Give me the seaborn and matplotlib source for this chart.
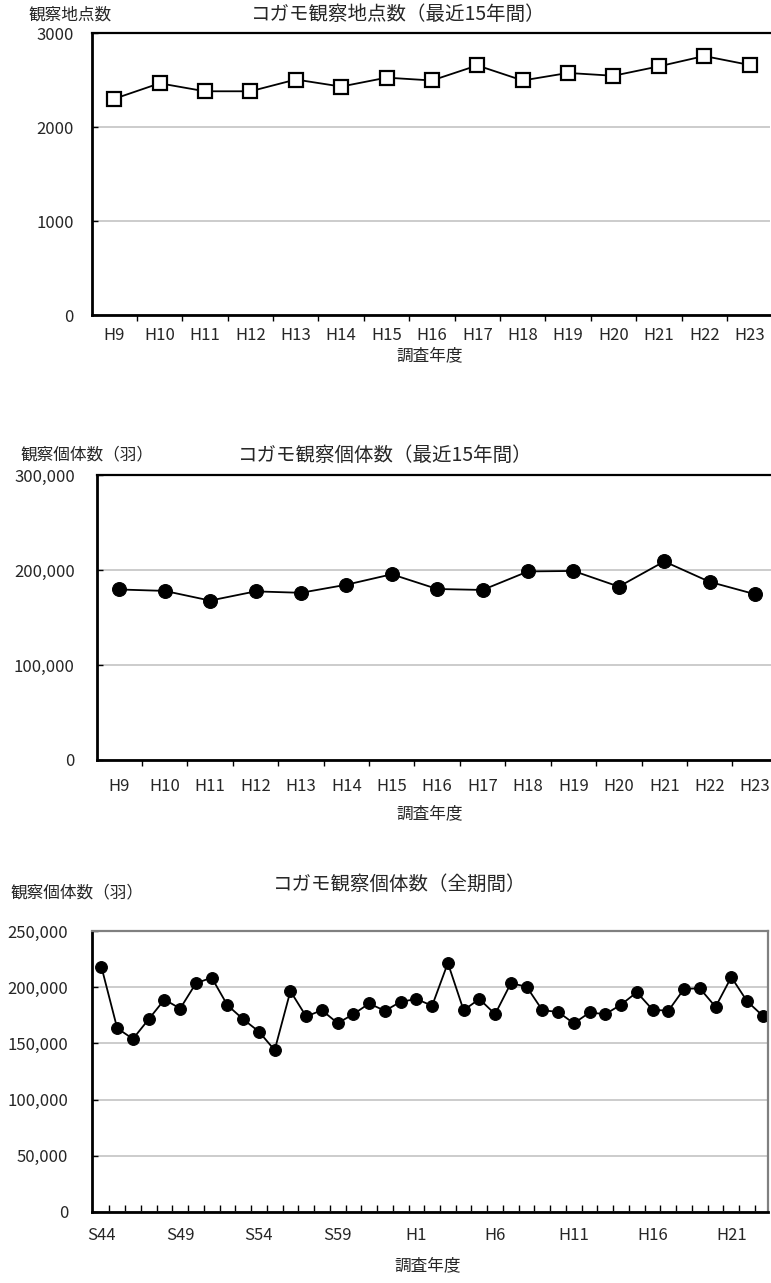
import numpy as np
import pandas as pd
import matplotlib
matplotlib.use("Agg")
import matplotlib.pyplot as plt
from matplotlib.ticker import FuncFormatter
import seaborn as sns

# ---------------- data ----------------
recent_years = ["H9", "H10", "H11", "H12", "H13", "H14", "H15", "H16",
                "H17", "H18", "H19", "H20", "H21", "H22", "H23"]
site_counts = [2300, 2465, 2380, 2380, 2505, 2430, 2525, 2495,
               2655, 2495, 2575, 2545, 2645, 2755, 2660]

all_years = ["S44", "S45", "S46", "S47", "S48", "S49", "S50", "S51", "S52", "S53",
             "S54", "S55", "S56", "S57", "S58", "S59", "S60", "S61", "S62", "S63",
             "H1", "H2", "H3", "H4", "H5", "H6", "H7", "H8", "H9", "H10",
             "H11", "H12", "H13", "H14", "H15", "H16", "H17", "H18", "H19", "H20",
             "H21", "H22", "H23"]
all_counts = [218000, 163500, 154000, 171500, 189000, 181000, 203500, 208500, 184000, 171500,
              160500, 144000, 196500, 174000, 179500, 168000, 176000, 185500, 179000, 187000,
              189500, 183500, 221500, 179500, 189500, 176000, 203500, 200500, 179500, 178000,
              167800, 177500, 176000, 184500, 195500, 180000, 179000, 198500, 199000, 182500,
              209000, 187500, 174500]
recent_counts = all_counts[-15:]
all_tick_labels = ["S44", "S49", "S54", "S59", "H1", "H6", "H11", "H16", "H21"]

titles = ["コガモ観察地点数（最近15年間）", "コガモ観察個体数（最近15年間）", "コガモ観察個体数（全期間）"]
ytitles = ["観察地点数", "観察個体数（羽）", "観察個体数（羽）"]
xtitle = "調査年度"

# ---------------- style ----------------
sns.set_theme(style="white")
plt.rcParams['font.family'] = ['Noto Sans CJK JP', 'DejaVu Sans']

W, H = 771, 1283
fig = plt.figure(figsize=(W / 100, H / 100), dpi=100)
fig.patch.set_facecolor("white")


def box(l, t, r, b):
    return [l / W, 1 - b / H, (r - l) / W, (b - t) / H]


GRID = "#c8c8c8"
TICKFS = 12


def common(ax, top_color, right_visible, right_color):
    ax.set_facecolor("white")
    for s in ["left", "bottom"]:
        ax.spines[s].set_color("black")
        ax.spines[s].set_linewidth(2)
    ax.spines["top"].set_color(top_color)
    ax.spines["top"].set_linewidth(1.6)
    ax.spines["right"].set_visible(right_visible)
    ax.spines["right"].set_color(right_color)
    ax.spines["right"].set_linewidth(1.6)
    ax.yaxis.grid(True, color=GRID, linewidth=1.3)
    ax.xaxis.grid(False)
    ax.set_axisbelow(True)
    ax.set_xlabel("")
    ax.set_ylabel("")


comma = FuncFormatter(lambda v, p: f"{int(v):,}")

# ---- chart 1 ----
ax1 = fig.add_axes(box(92, 33, 770, 315))
df1 = pd.DataFrame({"i": np.arange(len(recent_years)), "v": site_counts})
sns.lineplot(data=df1, x="i", y="v", ax=ax1, color="black", linewidth=1.3,
             marker="s", markersize=10, markerfacecolor="white",
             markeredgecolor="black", markeredgewidth=1.6)
ax1.set_xlim(-0.49, 14.45)
ax1.set_ylim(0, 3000)
ax1.set_yticks([0, 1000, 2000, 3000])
ax1.set_xticks(np.arange(len(recent_years)))
ax1.set_xticklabels(recent_years)
ax1.set_xticks(np.arange(0.5, len(recent_years) - 0.5, 1), minor=True)
ax1.tick_params(axis="x", which="major", length=0, pad=9, labelsize=TICKFS)
ax1.tick_params(axis="x", which="minor", length=4, width=1, direction="out", color="black", bottom=True)
ax1.tick_params(axis="y", length=4, width=1, direction="in", color="black", left=True, pad=13, labelsize=TICKFS)
common(ax1, "black", False, "black")

# ---- chart 2 ----
ax2 = fig.add_axes(box(97, 475, 771, 760))
df2 = pd.DataFrame({"i": np.arange(len(recent_years)), "v": recent_counts})
sns.lineplot(data=df2, x="i", y="v", ax=ax2, color="black", linewidth=1.3,
             marker="o", markersize=10, markerfacecolor="black", markeredgecolor="black")
ax2.set_xlim(-0.49, 14.35)
ax2.set_ylim(0, 300000)
ax2.set_yticks([0, 100000, 200000, 300000])
ax2.yaxis.set_major_formatter(comma)
ax2.set_xticks(np.arange(len(recent_years)))
ax2.set_xticklabels(recent_years)
ax2.set_xticks(np.arange(0.5, len(recent_years) - 0.5, 1), minor=True)
ax2.tick_params(axis="x", which="major", length=0, pad=13, labelsize=TICKFS)
ax2.tick_params(axis="x", which="minor", length=4, width=1, direction="out", color="black", bottom=True)
ax2.tick_params(axis="y", length=4, width=1, direction="in", color="black", left=True, pad=16, labelsize=TICKFS)
common(ax2, "black", False, "black")

# ---- chart 3 ----
ax3 = fig.add_axes(box(92, 931, 768, 1212))
df3 = pd.DataFrame({"i": np.arange(len(all_years)), "v": all_counts})
sns.lineplot(data=df3, x="i", y="v", ax=ax3, color="black", linewidth=1.3,
             marker="o", markersize=8.5, markerfacecolor="black", markeredgecolor="black")
ax3.set_xlim(-0.6, 42.33)
ax3.set_ylim(0, 250000)
ax3.set_yticks(np.arange(0, 250001, 50000))
ax3.yaxis.set_major_formatter(comma)
ax3.set_xticks([all_years.index(l) for l in all_tick_labels])
ax3.set_xticklabels(all_tick_labels)
ax3.set_xticks(np.arange(0.5, len(all_years) - 0.5, 1), minor=True)
ax3.tick_params(axis="x", which="major", length=0, pad=11, labelsize=TICKFS)
ax3.tick_params(axis="x", which="minor", length=5, width=1, direction="in", color="black", bottom=True)
ax3.tick_params(axis="y", length=4, width=1, direction="in", color="black", left=True, pad=17, labelsize=TICKFS)
common(ax3, "#808080", True, "#808080")

# ---- text ----
TFS = 14
YFS = 12
fig.text(398 / W, 1 - 14 / H, titles[0], ha="center", va="center", fontsize=TFS)
fig.text(385 / W, 1 - 455 / H, titles[1], ha="center", va="center", fontsize=TFS)
fig.text(400 / W, 1 - 884 / H, titles[2], ha="center", va="center", fontsize=TFS)
fig.text(28 / W, 1 - 15 / H, ytitles[0], ha="left", va="center", fontsize=YFS)
fig.text(20 / W, 1 - 455 / H, ytitles[1], ha="left", va="center", fontsize=YFS)
fig.text(10 / W, 1 - 893 / H, ytitles[2], ha="left", va="center", fontsize=YFS)
fig.text(430 / W, 1 - 356 / H, xtitle, ha="center", va="center", fontsize=YFS)
fig.text(430 / W, 1 - 814 / H, xtitle, ha="center", va="center", fontsize=YFS)
fig.text(428 / W, 1 - 1266 / H, xtitle, ha="center", va="center", fontsize=YFS)

fig.savefig("out.png", dpi=100, facecolor="white")
